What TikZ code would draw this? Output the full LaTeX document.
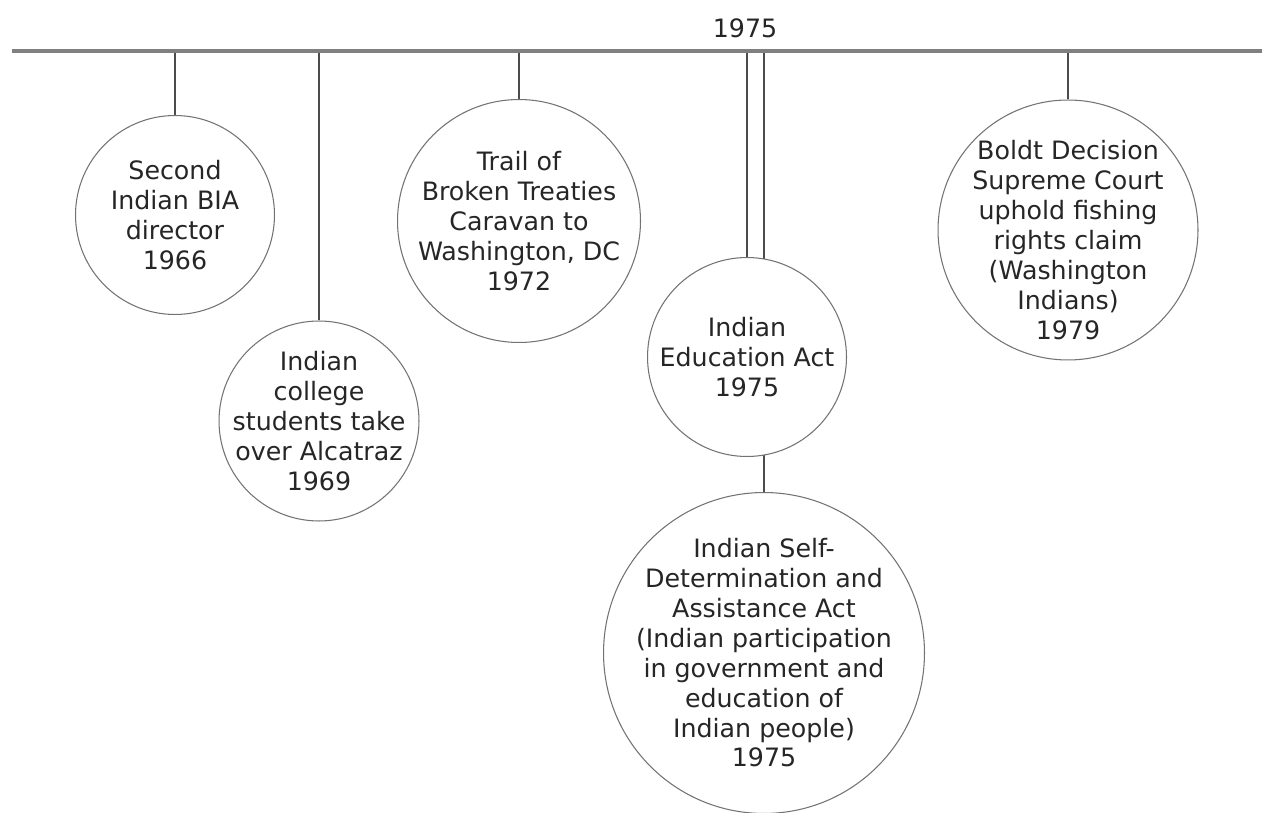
\documentclass[tikz,border=0pt]{standalone}
\usepackage{fontspec}
\setmainfont{DejaVu Sans}
\usetikzlibrary{backgrounds}
\begin{document}
\begin{tikzpicture}[x=0.02cm,y=-0.02cm,
  labeltext/.style={align=center,text=black!85,font=\fontsize{14.4pt}{17pt}\selectfont},
  event/.style={circle,draw=black!55,line width=0.6pt,fill=white,inner sep=-20pt,labeltext},
  stem/.style={draw=black!70,line width=0.75pt},
  axis/.style={draw=black!50,line width=2.3pt}]
\useasboundingbox (0,0) rectangle (1270,813);

% timeline
\coordinate (tl) at (12,51);
\coordinate (tr) at (1262,51);
\draw[axis] (tl) -- (tr);
\node[labeltext] (year) at (745,28) {1975};

% attachment points on the timeline
\coordinate (t1) at (175,51);
\coordinate (t2) at (319,51);
\coordinate (t3) at (519,51);
\coordinate (t4) at (747,51);
\coordinate (t5) at (764,51);
\coordinate (t6) at (1068,51);

% events
\node[event,minimum size=3.98cm] (bia) at (175,215)
  {Second\\Indian BIA\\director\\1966};
\node[event,minimum size=4cm] (alcatraz) at (319,421)
  {Indian\\college\\students take\\over Alcatraz\\1969};
\node[event,minimum size=4.86cm] (trail) at (519,221)
  {Trail of\\Broken Treaties\\Caravan to\\Washington, DC\\1972};
\node[event,minimum size=6.42cm] (selfdet) at (764,653)
  {Indian Self-\\Determination and\\Assistance Act\\(Indian participation\\in government and\\education of\\Indian people)\\1975};
\node[event,minimum size=3.98cm] (educ) at (747,357)
  {Indian\\Education Act\\1975};
\node[event,minimum size=5.2cm] (boldt) at (1068,230) {};
\node[labeltext] (boldttext) at (1068,240)
  {Boldt Decision\\Supreme Court\\uphold fishing\\rights claim\\(Washington\\Indians)\\1979};

% stems from the timeline, kept behind the white circles
\begin{scope}[on background layer]
\fill[white] (0,0) rectangle (1270,813);
\draw[stem] (t1) -- (bia.north);
\draw[stem] (t2) -- (alcatraz.north);
\draw[stem] (t3) -- (trail.north);
\draw[stem] (t4) -- (educ.north);
\draw[stem] (t5) -- (selfdet.north);
\draw[stem] (t6) -- (boldt.north);
\end{scope}
\end{tikzpicture}
\end{document}
